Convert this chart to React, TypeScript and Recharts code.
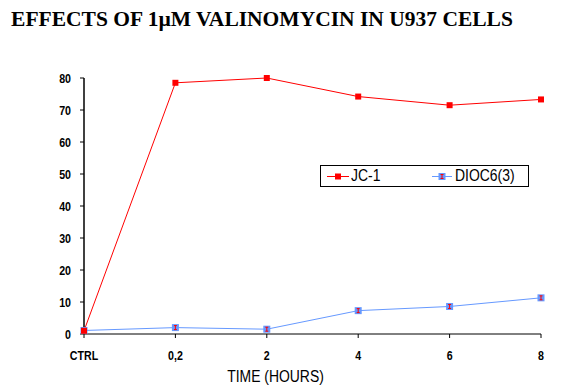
import React from 'react';
import { LineChart, Line, XAxis, YAxis, Legend } from 'recharts';

const categories = ['CTRL', '0,2', '2', '4', '6', '8'];
const jc1Values = [1, 78.5, 80, 74.2, 71.5, 73.3];
const dioc6Values = [1.1, 2, 1.5, 7.3, 8.6, 11.3];
const yTicks = [0, 10, 20, 30, 40, 50, 60, 70, 80];
const titleText = 'EFFECTS OF 1\u00b5M VALINOMYCIN IN U937 CELLS';
const xTitle = 'TIME (HOURS)';
const seriesNames = ['JC-1', 'DIOC6(3)'];

const data = categories.map((c, i) => ({ cat: c, jc1: jc1Values[i], dioc6: dioc6Values[i] }));

const RED = '#FF0000';
const BLUE = '#6699FF';
const SANS = '"Liberation Sans", Arial, sans-serif';
const SX = 0.82;

const RedDot = (props: any) => {
  const { cx, cy, index } = props;
  return <rect key={`r${index}`} x={cx - 3} y={cy - 3} width={6} height={6} fill={RED} />;
};

const BlueDot = (props: any) => {
  const { cx, cy, index } = props;
  return (
    <g key={`b${index}`}>
      <rect x={cx - 3.5} y={cy - 3.5} width={7} height={7} fill={BLUE} />
      <path d={`M${cx - 1.5},${cy - 2}H${cx + 1.5}M${cx - 1.5},${cy + 2}H${cx + 1.5}M${cx},${cy - 2}V${cy + 2}`} stroke={RED} strokeWidth={1} fill="none" />
    </g>
  );
};

const XTick = (props: any) => {
  const { x, y, payload } = props;
  return (
    <text transform={`translate(${x},${y + 9}) scale(${SX},1)`} textAnchor="middle" fontFamily={SANS} fontSize={13} fontWeight="bold" fill="#000">
      {payload.value}
    </text>
  );
};

const YTick = (props: any) => {
  const { x, y, payload } = props;
  return (
    <text transform={`translate(${x},${y + 4.5}) scale(${SX},1)`} textAnchor="end" fontFamily={SANS} fontSize={13} fontWeight="bold" fill="#000">
      {payload.value}
    </text>
  );
};

const legendText: React.CSSProperties = {
  position: 'absolute', top: 0, fontFamily: SANS, fontSize: 17, lineHeight: '20px', color: '#000',
  transform: `scaleX(${SX})`, transformOrigin: 'left center', whiteSpace: 'nowrap',
};

const renderLegend = () => (
  <div style={{ position: 'relative', width: 207, height: 20, border: '1px solid #000', background: '#fff', boxSizing: 'content-box' }}>
    <svg width={30} height={20} style={{ position: 'absolute', left: 4, top: 0 }}>
      <line x1={2} y1={10.5} x2={24} y2={10.5} stroke={RED} strokeWidth={1} />
      <rect x={10} y={7.5} width={6} height={6} fill={RED} />
    </svg>
    <span style={{ ...legendText, left: 30 }}>{seriesNames[0]}</span>
    <svg width={30} height={20} style={{ position: 'absolute', left: 109, top: 0 }}>
      <line x1={2} y1={10.5} x2={22} y2={10.5} stroke={BLUE} strokeWidth={1} />
      <rect x={8.5} y={7} width={7} height={7} fill={BLUE} />
      <path d="M10.5,8.5H13.5M10.5,12.5H13.5M12,8.5V12.5" stroke={RED} strokeWidth={1} fill="none" />
    </svg>
    <span style={{ ...legendText, left: 134 }}>{seriesNames[1]}</span>
  </div>
);

const XLabel = (props: any) => {
  const vb = props.viewBox || {};
  return (
    <text transform={`translate(${vb.x + vb.width / 2 - 37},382) scale(${SX},1)`} textAnchor="middle" fontFamily={SANS} fontSize={17} fill="#000">
      {xTitle}
    </text>
  );
};

export default function App() {
  return (
    <div style={{ position: 'absolute', left: 0, top: 0, width: 587, height: 391, background: '#fff' }}>
      <div style={{ position: 'absolute', left: 0, top: 8, width: 524, textAlign: 'center', fontFamily: '"Liberation Serif", "Times New Roman", serif', fontWeight: 'bold', fontSize: 21.5, lineHeight: '22px', color: '#000', whiteSpace: 'nowrap' }}>
        {titleText}
      </div>
      <LineChart width={587} height={391} data={data} margin={{ top: 78, right: 46, bottom: 0, left: 0 }}>
        <XAxis
          dataKey="cat"
          height={57}
          axisLine={{ stroke: '#000', strokeWidth: 1 }}
          tickLine={{ stroke: '#000', strokeWidth: 1 }}
          tickSize={4}
          tickMargin={13}
          tick={<XTick />}
          interval={0}
          label={<XLabel />}
        />
        <YAxis
          width={84}
          domain={[0, 80]}
          ticks={yTicks}
          axisLine={{ stroke: '#000', strokeWidth: 1.5 }}
          tickLine={{ stroke: '#000', strokeWidth: 1 }}
          tickSize={4}
          tickMargin={9}
          tick={<YTick />}
          interval={0}
        />
        <Legend
          layout="horizontal"
          verticalAlign="middle"
          align="center"
          content={renderLegend}
          wrapperStyle={{ left: 320, top: 165, width: 209, height: 22 }}
        />
        <Line type="linear" dataKey="dioc6" name={seriesNames[1]} stroke={BLUE} strokeWidth={1} dot={BlueDot} activeDot={false} isAnimationActive={false} />
        <Line type="linear" dataKey="jc1" name={seriesNames[0]} stroke={RED} strokeWidth={1} dot={RedDot} activeDot={false} isAnimationActive={false} />
      </LineChart>
    </div>
  );
}
